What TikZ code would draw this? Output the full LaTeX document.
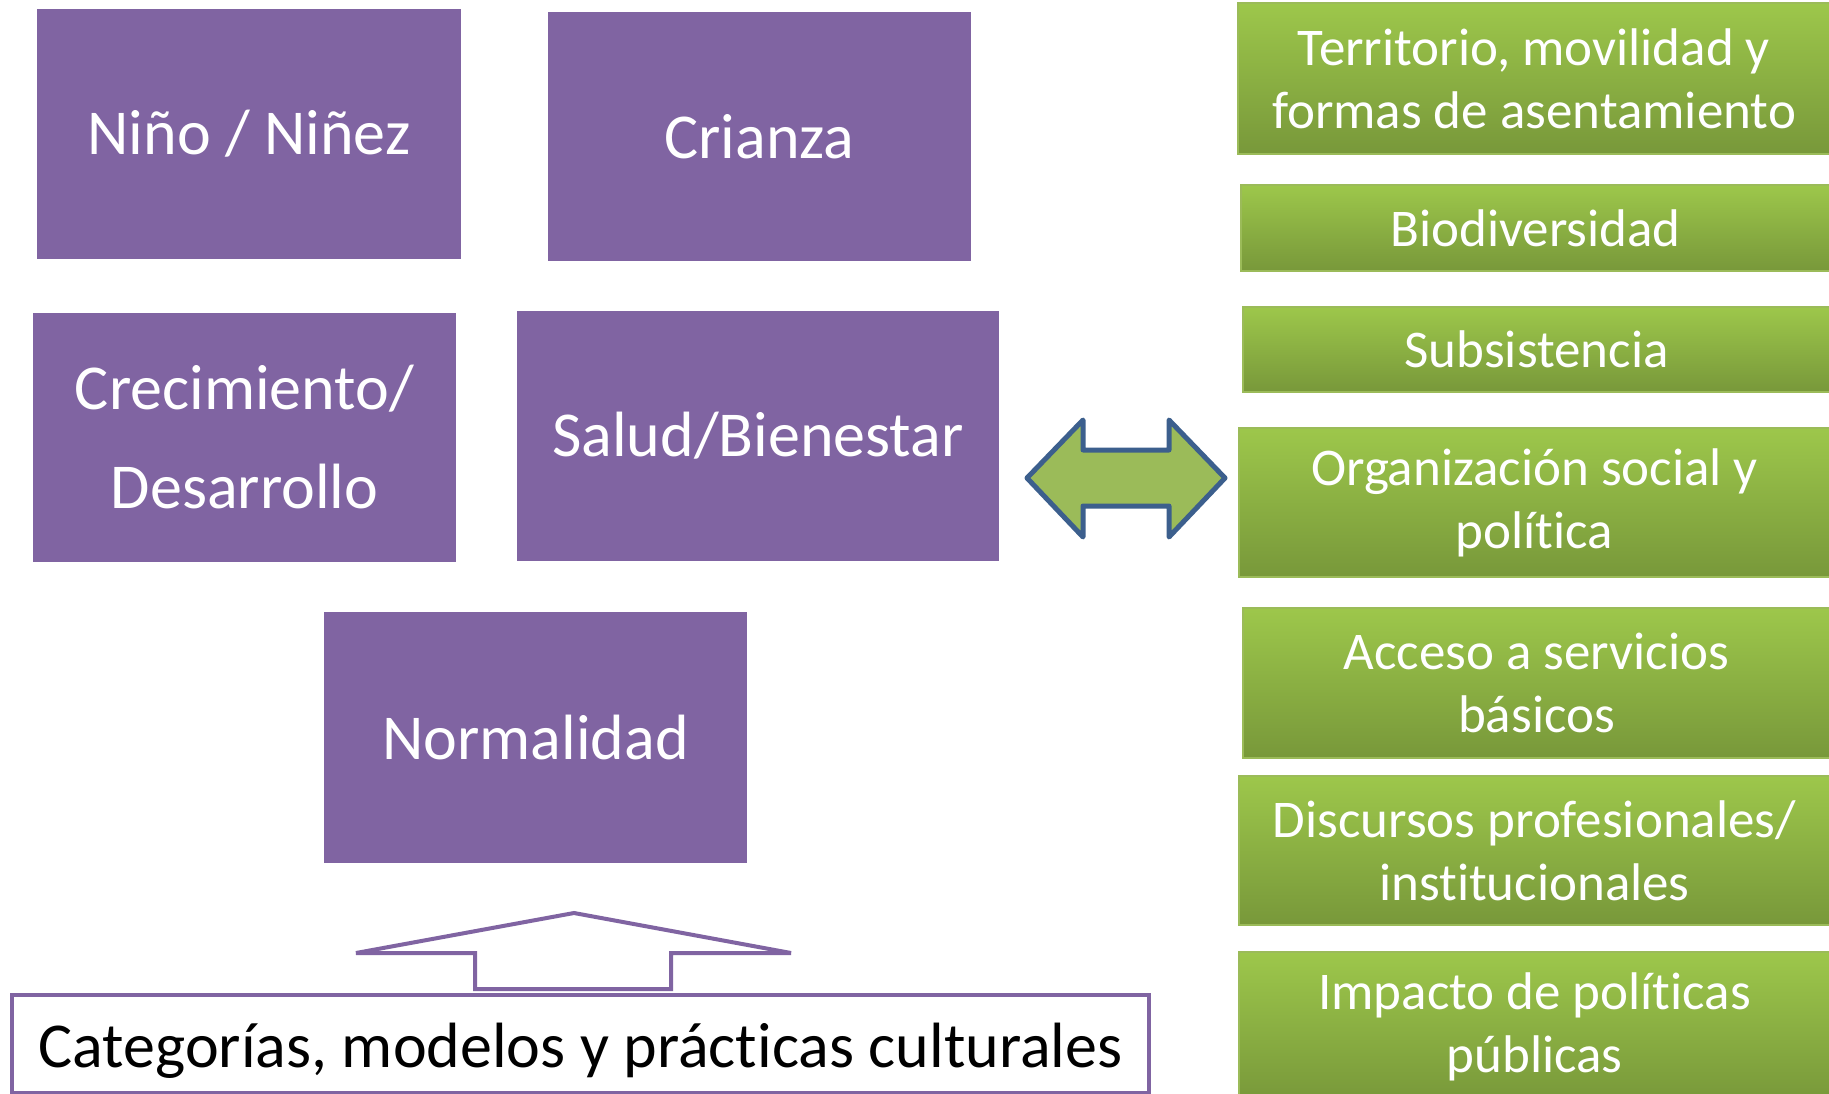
\documentclass[tikz,border=0pt]{standalone}
\usepackage{fontspec}
\setmainfont{Carlito}[RawFeature={-liga;-clig;-calt;-dlig}]
\definecolor{purp}{HTML}{8064A2}
\definecolor{greenT}{HTML}{9DC74B}
\definecolor{greenB}{HTML}{78983A}
\definecolor{greenLine}{HTML}{9BBB59}
\definecolor{arrowFill}{HTML}{9BBB59}
\definecolor{arrowLine}{HTML}{3C5F8D}
\tikzset{
  pbox/.style={fill=purp, draw=none, text=white, align=center, inner sep=0pt,
    font=\fontsize{64}{99}\selectfont},
  gbox/.style={top color=greenT, bottom color=greenB, draw=greenLine, line width=2.5pt,
    text=white, align=center, inner sep=0pt, font=\fontsize{53}{63}\selectfont},
  cbox/.style={draw=purp, line width=4pt, fill=white, text=black, inner sep=0pt,
    text height=60pt, text depth=14pt, font=\fontsize{64}{80}\selectfont},
}
\begin{document}
\begin{tikzpicture}[x=1pt,y=-1pt]
\useasboundingbox (0,0) rectangle (1829,1094);
\clip (0,0) rectangle (1829,1094);
\fill[white] (0,0) rectangle (1829,1094);

% purple boxes
\node[pbox, minimum width=424pt, minimum height=250pt] (nino) at (249,134) {Niño / Niñez};
\node[pbox, minimum width=423pt, minimum height=249pt] (crianza) at (759.5,136.5) {Crianza};
\node[pbox, minimum width=423pt, minimum height=249pt] (crec) at (244.5,437.5) {Crecimiento/\\Desarrollo};
\node[pbox, minimum width=482pt, minimum height=250pt] (salud) at (758,436) {Salud/Bienestar};
\node[pbox, minimum width=423pt, minimum height=251pt] (normal) at (535.5,737.5) {Normalidad};

% green boxes
\node[gbox, minimum width=592pt, minimum height=151pt] (g1) at (1534,78.5) {Territorio, movilidad y\\formas de asentamiento};
\node[gbox, minimum width=589pt, minimum height=86pt] (g2) at (1535.5,228) {Biodiversidad};
\node[gbox, minimum width=587pt, minimum height=85pt] (g3) at (1536.5,349.5) {Subsistencia};
\node[gbox, minimum width=591pt, minimum height=149pt] (g4) at (1534.5,502.5) {Organización social y\\política};
\node[gbox, minimum width=587pt, minimum height=150pt] (g5) at (1536.5,683) {Acceso a servicios\\básicos};
\node[gbox, minimum width=591pt, minimum height=149pt] (g6) at (1534.5,850.5) {Discursos profesionales/\\institucionales};
\node[gbox, minimum width=591pt, minimum height=150pt] (g7) at (1534.5,1027) {Impacto de políticas\\públicas};

% bottom box
\node[cbox, minimum width=1137pt, minimum height=98pt] (cat) at (580.5,1044) {Categorías, modelos y prácticas culturales};

% double arrow
\draw[fill=arrowFill, draw=arrowLine, line width=5pt, line join=round]
  (1027,478) -- (1083,420) -- (1083,450) -- (1169,450) -- (1169,420) -- (1225,478)
  -- (1169,537) -- (1169,506) -- (1083,506) -- (1083,537) -- cycle;

% up arrow outline
\draw[fill=white, draw=purp, line width=4pt, line join=miter]
  (475,989) -- (475,953) -- (356,953) -- (574,913) -- (791,953) -- (671,953) -- (671,989) -- cycle;
\end{tikzpicture}
\end{document}
